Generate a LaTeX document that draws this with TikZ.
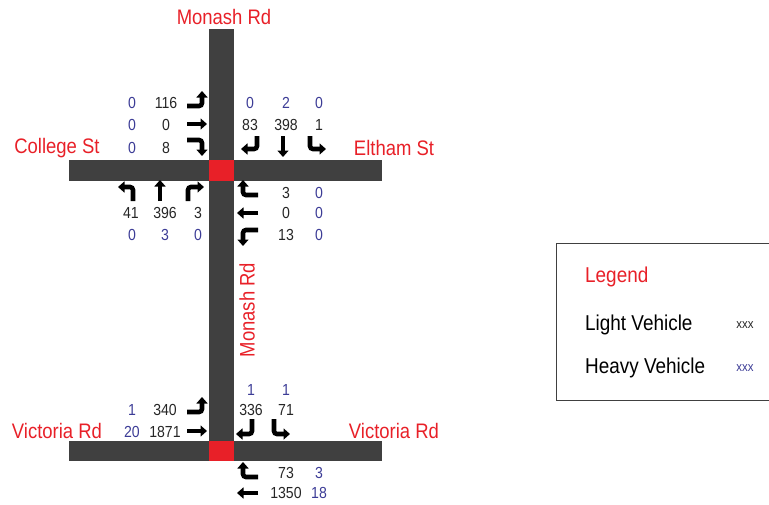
\documentclass[tikz,border=0pt]{standalone}
\usepackage{fontspec}
\setmainfont{Liberation Sans}[FakeStretch=0.88]
\usetikzlibrary{arrows.meta}
\definecolor{roadgrey}{RGB}{64,64,64}
\definecolor{jred}{RGB}{232,32,40}
\definecolor{hvblue}{RGB}{60,60,150}
\tikzset{
  lv/.style={inner sep=0pt,font=\fontsize{16}{18}\selectfont,text=black!85},
  hv/.style={lv,text=hvblue},
  rdname/.style={inner sep=0pt,font=\fontsize{21}{24}\selectfont,text=jred},
  mv/.style={line width=4.6pt,rounded corners=3pt,-{Triangle[width=11pt,length=6.5pt]}},
  leg/.style={inner sep=0pt,anchor=west,font=\fontsize{21.5}{24}\selectfont}
}
\begin{document}
\begin{tikzpicture}[x=1pt,y=-1pt]
  \useasboundingbox (0,0) rectangle (769,504);
  % roads
  \fill[roadgrey] (209,29) rectangle (234,461);
  \fill[roadgrey] (69,160) rectangle (382,181);
  \fill[roadgrey] (69,441) rectangle (382,461);
  \fill[jred] (209,160) rectangle (234,181);
  \fill[jred] (209,441) rectangle (234,461);
  % road names
  \node[rdname] (monashN) at (224,17) {Monash Rd};
  \node[rdname,rotate=90] (monashS) at (247,310) {Monash Rd};
  \node[rdname] (college) at (57,148) {College St};
  \node[rdname] (eltham) at (394,148) {Eltham St};
  \node[rdname] (victW) at (57,431) {Victoria Rd};
  \node[rdname] (victE) at (394,431) {Victoria Rd};

  % upper intersection, College St approach
  \draw[mv] (187,106) -- (202,106) -- (202,91);
  \draw[mv] (187,124) -- (207,124);
  \draw[mv] (187,140) -- (202,140) -- (202,156);
  \node[hv] (cW1) at (132,103) {0};  \node[lv] (cL1) at (166,103) {116};
  \node[hv] (cW2) at (132,125) {0};  \node[lv] (cL2) at (166,125) {0};
  \node[hv] (cW3) at (132,148) {0};  \node[lv] (cL3) at (166,148) {8};
  % Monash Rd north approach
  \draw[mv] (257,136) -- (257,149) -- (241,149);
  \draw[mv] (283,136) -- (283,157);
  \draw[mv] (310,136) -- (310,149) -- (326,149);
  \node[hv] (nH1) at (250,103) {0};  \node[lv] (nL1) at (250,125) {83};
  \node[hv] (nH2) at (286,103) {2};  \node[lv] (nL2) at (286,125) {398};
  \node[hv] (nH3) at (319,103) {0};  \node[lv] (nL3) at (319,125) {1};
  % Monash Rd south approach
  \draw[mv] (133,201) -- (133,187) -- (118,187);
  \draw[mv] (160,201) -- (160,180);
  \draw[mv] (188,201) -- (188,187) -- (204,187);
  \node[lv] (sL1) at (131,213) {41};  \node[hv] (sH1) at (132,235) {0};
  \node[lv] (sL2) at (165,213) {396}; \node[hv] (sH2) at (165,235) {3};
  \node[lv] (sL3) at (198,213) {3};   \node[hv] (sH3) at (198,235) {0};
  % Eltham St approach
  \draw[mv] (258,195) -- (243,195) -- (243,180);
  \draw[mv] (258,213) -- (237,213);
  \draw[mv] (258,230) -- (243,230) -- (243,246);
  \node[lv] (eL1) at (286,193) {3};   \node[hv] (eH1) at (319,193) {0};
  \node[lv] (eL2) at (286,213) {0};   \node[hv] (eH2) at (319,213) {0};
  \node[lv] (eL3) at (286,235) {13};  \node[hv] (eH3) at (319,235) {0};

  % lower intersection, Victoria Rd west approach
  \draw[mv] (187,412) -- (202,412) -- (202,397);
  \draw[mv] (187,431) -- (207,431);
  \node[hv] (vW1) at (132,410) {1};   \node[lv] (vL1) at (165,410) {340};
  \node[hv] (vW2) at (132,432) {20};  \node[lv] (vL2) at (165,432) {1871};
  % Monash Rd north approach
  \draw[mv] (252,419) -- (252,434) -- (236,434);
  \draw[mv] (274,419) -- (274,434) -- (290,434);
  \node[hv] (mH1) at (251,390) {1};   \node[lv] (mL1) at (251,410) {336};
  \node[hv] (mH2) at (286,390) {1};   \node[lv] (mL2) at (286,410) {71};
  % Victoria Rd east approach
  \draw[mv] (258,477) -- (243,477) -- (243,462);
  \draw[mv] (258,493) -- (237,493);
  \node[lv] (vE1) at (286,473) {73};   \node[hv] (vH1) at (319,473) {3};
  \node[lv] (vE2) at (286,493) {1350}; \node[hv] (vH2) at (319,493) {18};

  % legend
  \draw[line width=1pt,black!75] (775,243) -- (556,243) -- (556,400) -- (775,400);
  \node[leg,text=jred] (legT) at (585,277) {Legend};
  \node[leg] (legL) at (585,325) {Light Vehicle};
  \node[leg] (legH) at (585,368) {Heavy Vehicle};
  \node[lv,font=\fontsize{13}{15}\selectfont] (legLx) at (745,325) {xxx};
  \node[hv,font=\fontsize{13}{15}\selectfont] (legHx) at (745,368) {xxx};
\end{tikzpicture}
\end{document}
